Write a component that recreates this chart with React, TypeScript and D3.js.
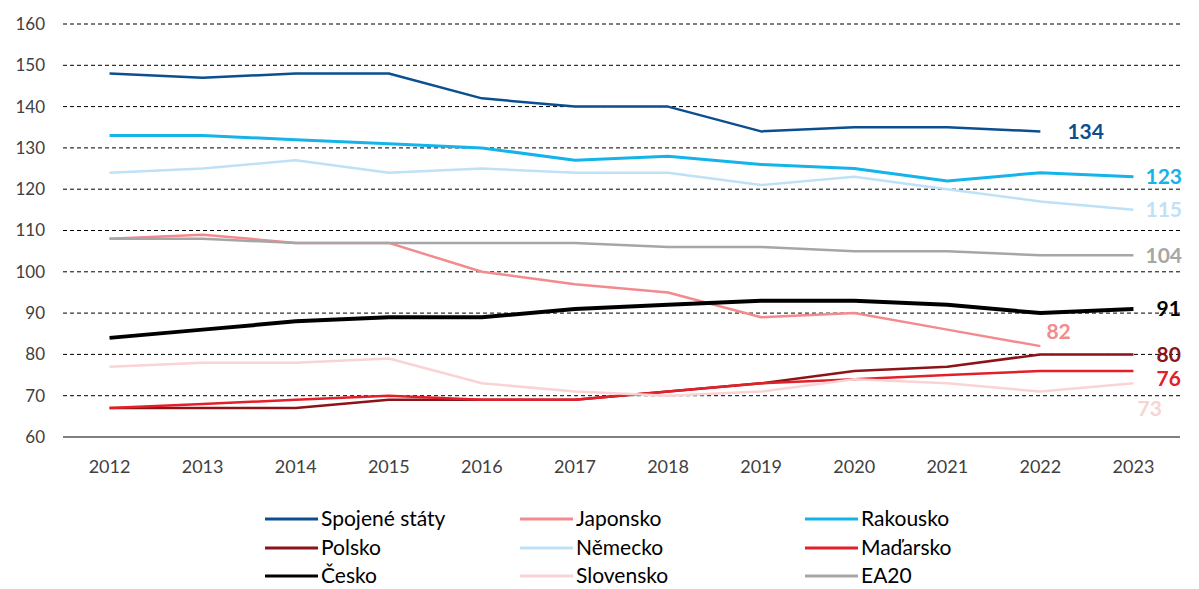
import React from "react";
import * as d3 from "d3";

const years = ["2012","2013","2014","2015","2016","2017","2018","2019","2020","2021","2022","2023"];
const yTicks = [60,70,80,90,100,110,120,130,140,150,160];

const spojeneStaty = [148,147,148,148,142,140,140,134,135,135,134,null];
const japonsko = [108,109,107,107,100,97,95,89,90,86,82,null];
const rakousko = [133,133,132,131,130,127,128,126,125,122,124,123];
const polsko = [67,67,67,69,69,69,71,73,76,77,80,80];
const nemecko = [124,125,127,124,125,124,124,121,123,120,117,115];
const madarsko = [67,68,69,70,69,69,71,73,74,75,76,76];
const cesko = [84,86,88,89,89,91,92,93,93,92,90,91];
const slovensko = [77,78,78,79,73,71,70,71,74,73,71,73];
const ea20 = [108,108,107,107,107,107,106,106,105,105,104,104];

const seriesNames = ["Spojené státy","Japonsko","Rakousko","Polsko","Německo","Maďarsko","Česko","Slovensko","EA20"];
const seriesValues = [spojeneStaty,japonsko,rakousko,polsko,nemecko,madarsko,cesko,slovensko,ea20];
const seriesColors = ["#0B4F91","#F38A8E","#14B4EA","#8C1419","#BFE1F7","#E3202A","#000000","#FAD3D4","#A6A6A6"];
const seriesWidths = [2.5,2.5,3,2.5,2.5,2.5,4,2.5,2.5];
// end-label offsets (dx from last point, dy from last point)
const labelDx = [27,6,12,23,12,23,23,4,12];
const labelDy = [0,-14,0,0,0,8,0,25,0];

const FONT = "Lato, 'Open Sans', sans-serif";

export default function App() {
  const W = 1199, H = 589;
  const x = d3.scaleBand<string>().domain(years).range([63, 1180]).padding(0);
  const cx = (yr: string) => (x(yr) as number) + x.bandwidth() / 2;
  const y = d3.scaleLinear().domain([60, 160]).range([437, 24]);

  const lineGen = d3.line<[string, number | null]>()
    .defined(d => d[1] !== null)
    .x(d => cx(d[0]))
    .y(d => y(d[1] as number));

  const legendCols = [265, 520, 805];
  const legendRows = [519, 548, 576];

  return (
    <svg width={W} height={H} style={{ position: "absolute", left: 0, top: 0, background: "#fff" }} fontFamily={FONT}>
      {yTicks.map(t => (
        <g key={t}>
          {t > 60 && (
            <line x1={63} x2={1180} y1={y(t)} y2={y(t)} stroke="#000" strokeWidth={1} strokeDasharray="4,3" />
          )}
          <text x={45} y={y(t)} dy="0.35em" textAnchor="end" fontSize={17} fill="#404040">{t}</text>
        </g>
      ))}
      <line x1={63} x2={1180} y1={y(60)} y2={y(60)} stroke="#000" strokeWidth={1.2} />
      {years.map(yr => (
        <text key={yr} x={cx(yr)} y={467} dy="0.35em" textAnchor="middle" fontSize={18} fill="#404040">{yr}</text>
      ))}
      {seriesValues.map((vals, i) => (
        <path key={seriesNames[i]}
          d={lineGen(years.map((yr, j) => [yr, vals[j]] as [string, number | null])) || ""}
          fill="none" stroke={seriesColors[i]} strokeWidth={seriesWidths[i]} strokeLinejoin="round" />
      ))}
      {seriesValues.map((vals, i) => {
        let last = vals.length - 1;
        while (vals[last] === null) last--;
        const v = vals[last] as number;
        return (
          <text key={"l" + i} x={cx(years[last]) + labelDx[i]} y={y(v) + labelDy[i]} dy="0.35em"
            fontSize={21} fontWeight="bold" fill={seriesColors[i]}>{v}</text>
        );
      })}
      {seriesNames.map((name, i) => {
        const col = i % 3, row = Math.floor(i / 3);
        const lx = legendCols[col], ly = legendRows[row];
        return (
          <g key={"lg" + i}>
            <line x1={lx} x2={lx + 53} y1={ly} y2={ly} stroke={seriesColors[i]} strokeWidth={3} />
            <text x={lx + 56} y={ly} dy="0.35em" fontSize={21} fill="#000">{name}</text>
          </g>
        );
      })}
    </svg>
  );
}
